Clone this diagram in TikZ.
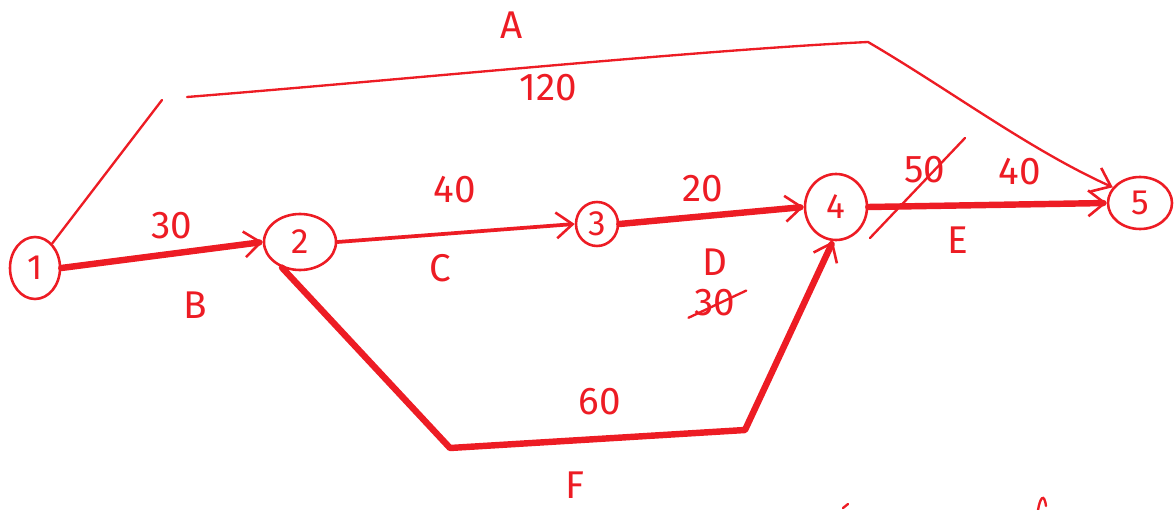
\documentclass[tikz,border=0pt]{standalone}
\usepackage{fontspec}
\setmainfont{Fira Sans}
\usetikzlibrary{shapes.geometric,arrows.meta}
\definecolor{ink}{HTML}{ED1C24}
\begin{document}
\begin{tikzpicture}[x=0.03cm,y=-0.03cm,
  ev/.style={ellipse,draw=ink,line width=2.2pt,text=ink,font=\fontsize{30}{30}\selectfont,inner sep=0pt},
  lab/.style={text=ink,font=\fontsize{33}{33}\selectfont,inner sep=1pt},
  thinedge/.style={draw=ink,line width=2pt,line cap=round,line join=round},
  midedge/.style={draw=ink,line width=3.2pt,line cap=round,line join=round},
  boldedge/.style={draw=ink,line width=5.5pt,line cap=round,line join=round},
  tip/.style={-{Straight Barb[length=14pt,width=22pt,line width=2.2pt]}},
  strike/.style={draw=ink,line width=2pt,line cap=round}]
\useasboundingbox (0,0) rectangle (1174,510);

% events
\node[ev,minimum width=1.5cm,minimum height=1.86cm] (n1) at (35,268) {1};
\node[ev,minimum width=2.16cm,minimum height=1.68cm] (n2) at (300,242) {2};
\node[ev,minimum width=1.26cm,minimum height=1.32cm] (n3) at (597,224) {3};
\node[ev,minimum width=1.86cm,minimum height=1.98cm] (n4) at (836,207) {4};
\node[ev,minimum width=1.92cm,minimum height=1.56cm] (n5) at (1140,203) {5};

% free ends
\coordinate (a1) at (162,100);
\coordinate (a2) at (187,97);
\coordinate (a3) at (868,42);
\coordinate (f1) at (450,448);
\coordinate (f2) at (745,430);
\coordinate (s1) at (870,238);
\coordinate (s2) at (965,138);

% activity A
\draw[thinedge] (n1.55) -- (a1);
\draw[thinedge,tip] (a2) .. controls (400,80) and (700,50) .. (a3)
  .. controls (950,90) and (1030,150) .. (n5.150);
% activities on the main line
\draw[boldedge,tip] (n1.east) -- (n2.west);
\draw[midedge,tip] (n2.east) -- (n3.west);
\draw[boldedge,tip] (n3.east) -- (n4.west);
\draw[boldedge,tip] (n4.east) -- (n5.west);
% activity F
\draw[boldedge,tip] (n2.235) -- (f1) -- (f2) -- (n4.265);

% labels
\node[lab] (lA) at (512,25) {A};
\node[lab] (l120) at (548,88) {120};
\node[lab] (l30b) at (172,226) {30};
\node[lab] (lB) at (195,305) {B};
\node[lab] (l40c) at (455,190) {40};
\node[lab] (lC) at (440,268) {C};
\node[lab] (l20) at (703,189) {20};
\node[lab] (lD) at (715,262) {D};
\node[lab] (l30d) at (715,303) {30};
\node[lab] (l50) at (925,170) {50};
\node[lab] (l40e) at (1020,172) {40};
\node[lab] (lE) at (958,240) {E};
\node[lab] (l60) at (600,402) {60};
\node[lab] (lF) at (575,485) {F};

% strike-outs
\draw[strike] ([xshift=-4pt]l30d.south west) -- ([xshift=8pt,yshift=-2pt]l30d.north east);
\draw[strike] (s1) -- (s2);

% stray marks at the bottom
\draw[strike] (843,508) -- (848,504);
\draw[strike] (1038,510) .. controls (1040,498) and (1044,492) .. (1046,506);
\end{tikzpicture}
\end{document}
